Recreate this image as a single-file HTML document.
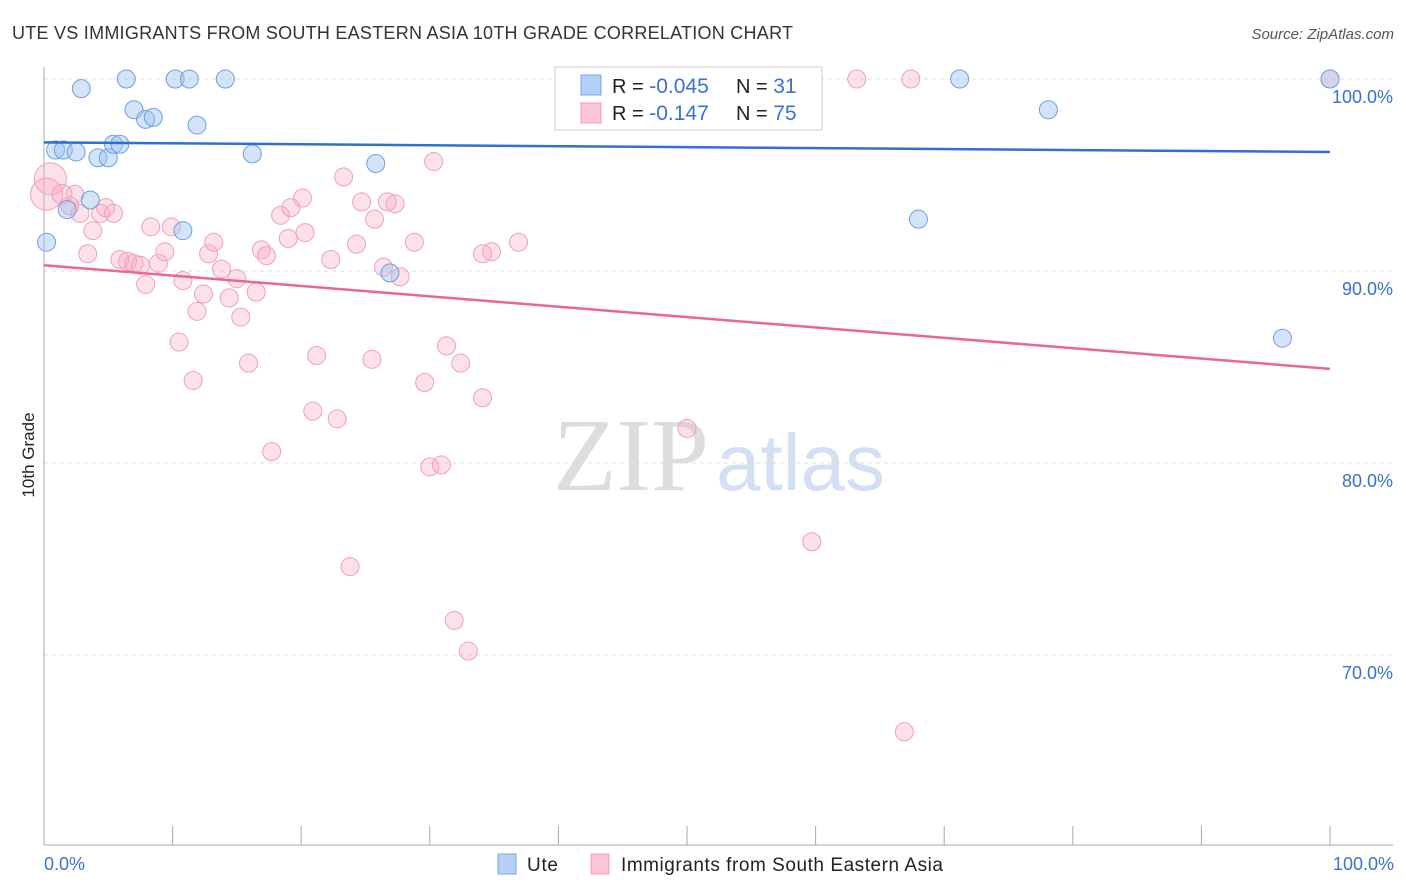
<!DOCTYPE html>
<html><head><meta charset="utf-8">
<style>
body{margin:0;background:#fff;font-family:"Liberation Sans",sans-serif;}
#wrap{position:relative;width:1406px;height:892px;overflow:hidden;}
</style></head>
<body>
<div id="wrap">
<svg id="chart" width="1406" height="892" xmlns="http://www.w3.org/2000/svg">
<text x="12" y="39" font-size="18" fill="#333" textLength="781">UTE VS IMMIGRANTS FROM SOUTH EASTERN ASIA 10TH GRADE CORRELATION CHART</text>
<text x="1394" y="39" font-size="15" fill="#555" font-style="italic" text-anchor="end">Source: ZipAtlas.com</text>
<text x="34" y="455" font-size="17" fill="#222" text-anchor="middle" transform="rotate(-90 34 455)">10th Grade</text>
<g><text x="553" y="490" font-size="104" fill="#ddd" font-family="Liberation Serif,serif">ZIP</text><text x="716" y="490" font-size="80" fill="#d3e0f3">atlas</text></g>
<g id="grid"></g><g id="axes"></g><g id="pts"></g><g id="trend"></g>
<g>
<rect x="555" y="67" width="267" height="63" fill="#fff" stroke="#ccc"/>
<rect x="581" y="75" width="20" height="20" fill="#b5d0f5" stroke="#7aa6e6"/>
<rect x="581" y="103" width="20" height="20" fill="#fbc5d5" stroke="#f09ab4"/>
<text x="612" y="93" font-size="20" fill="#222">R = <tspan fill="#3a72d0" font-size="21">-0.045</tspan></text>
<text x="736" y="93" font-size="20" fill="#222">N = <tspan fill="#3a72d0" font-size="21"> 31</tspan></text>
<text x="612" y="120" font-size="20" fill="#222">R = <tspan fill="#3a72d0" font-size="21"> -0.147</tspan></text>
<text x="736" y="120" font-size="20" fill="#222">N = <tspan fill="#3a72d0" font-size="21">75</tspan></text>
</g>
<g>
<rect x="498" y="854" width="18" height="20" fill="#b5d0f5" stroke="#7aa6e6"/>
<text x="527" y="871" font-size="19" fill="#222" textLength="31">Ute</text>
<rect x="591" y="854" width="18" height="20" fill="#fbc5d5" stroke="#f09ab4"/>
<text x="621" y="871" font-size="19" fill="#222" textLength="322">Immigrants from South Eastern Asia</text>
</g>
</svg>
</div>
<script>
const yTicks=[100,90,80,70];
const yTickLabels=["100.0%","90.0%","80.0%","70.0%"];
const xTicks=[0,10,20,30,40,50,60,70,80,90,100];
const uteX=[0.2,0.9,1.5,2.5,2.9,4.2,5.0,5.4,5.9,6.4,7.0,7.9,8.5,10.2,11.3,11.9,10.8,14.1,16.2,25.8,26.9,1.8,3.6,42.5,52.4,71.2,78.1,68.0,96.3,100,42.6];
const uteY=[91.5,96.3,96.3,96.2,99.5,95.9,95.9,96.6,96.6,100,98.4,97.9,98.0,100,100,97.6,92.1,100,96.1,95.6,89.9,93.2,93.7,100,100,100,98.4,92.7,86.5,100,100];
const imX=[0.5,0.2,1.4,2.0,2.4,2.8,3.8,3.4,4.4,4.8,5.4,5.9,6.5,7.0,7.5,7.9,8.3,8.9,9.4,9.9,10.8,10.5,11.6,11.9,12.4,12.8,13.2,13.8,14.4,15.0,15.3,15.9,16.5,16.9,17.3,17.7,18.4,19.0,19.2,20.1,20.3,20.9,21.2,22.3,22.8,23.3,23.8,24.3,24.7,25.5,25.7,26.4,26.7,27.3,27.7,28.8,29.6,30.0,30.3,30.9,31.3,31.9,32.4,33.0,34.1,34.1,34.8,36.9,50.0,59.7,63.2,66.9,67.4,100];
const imY=[94.8,94.0,94.0,93.4,94.0,93.0,92.1,90.9,93.0,93.3,93.0,90.6,90.5,90.4,90.3,89.3,92.3,90.4,91.0,92.3,89.5,86.3,84.3,87.9,88.8,90.9,91.5,90.1,88.6,89.6,87.6,85.2,88.9,91.1,90.8,80.6,92.9,91.7,93.3,93.8,92.0,82.7,85.6,90.6,82.3,94.9,74.6,91.4,93.6,85.4,92.7,90.2,93.6,93.5,89.7,91.5,84.2,79.8,95.7,79.9,86.1,71.8,85.2,70.2,83.4,90.9,91.0,91.5,81.8,75.9,100,66.0,100,100];
const imR=[16,16,10,9,9,9,9,9,9,9,9,9,9,9,9,9,9,9,9,9,9,9,9,9,9,9,9,9,9,9,9,9,9,9,9,9,9,9,9,9,9,9,9,9,9,9,9,9,9,9,9,9,9,9,9,9,9,9,9,9,9,9,9,9,9,9,9,9,9,9,9,9,9,9];
const uteTrend=[96.7,96.2];
const imTrend=[90.3,84.9];
const X=v=>44+v*12.86, Y=v=>79+(100-v)*19.2;
const NS="http://www.w3.org/2000/svg";
function mk(tag,attrs,parent){const e=document.createElementNS(NS,tag);for(const k in attrs)e.setAttribute(k,attrs[k]);document.getElementById(parent).appendChild(e);return e;}
yTicks.forEach((t,i)=>{
 const l=mk('line',{x1:44,x2:1393,y1:Y(t),y2:Y(t),stroke:'#ddd','stroke-dasharray':'4,4'},'grid');
 
 
 const tx=mk('text',{x:1393,y:Y(t)+24,'font-size':18,fill:'#3a72d0','text-anchor':'end'},'grid');
 tx.textContent=yTickLabels[i];
 
 
});
const ya=mk('line',{x1:44,x2:44,y1:67,y2:845,stroke:'#aaa'},'axes');


const xa=mk('line',{x1:44,x2:1393,y1:845,y2:845,stroke:'#aaa'},'axes');


xTicks.forEach(t=>{const l=mk('line',{x1:X(t),x2:X(t),y1:826,y2:845,stroke:'#aaa'},'axes');
 
 });
[[0,'0.0%','start',44],[100,'100.0%','end',1394]].forEach(a=>{const t=mk('text',{x:a[3],y:870,'font-size':18,fill:'#3a72d0','text-anchor':a[2]},'axes');t.textContent=a[1];
 
 });
imX.forEach((v,i)=>{const c=mk('circle',{cx:X(v),cy:Y(imY[i]),r:imR[i],fill:'rgba(248,170,195,0.35)',stroke:'#f0a0b8','stroke-width':1},'pts');
 
 });
uteX.forEach((v,i)=>{const c=mk('circle',{cx:X(v),cy:Y(uteY[i]),r:9,fill:'rgba(160,195,240,0.45)',stroke:'#6e9fe0','stroke-width':1},'pts');
 
 });
const t1=mk('line',{x1:X(0),x2:X(100),y1:Y(uteTrend[0]),y2:Y(uteTrend[1]),stroke:'#2f6fd0','stroke-width':2.5},'trend');


const t2=mk('line',{x1:X(0),x2:X(100),y1:Y(imTrend[0]),y2:Y(imTrend[1]),stroke:'#e8679a','stroke-width':2.5},'trend');


</script>
</body></html>
